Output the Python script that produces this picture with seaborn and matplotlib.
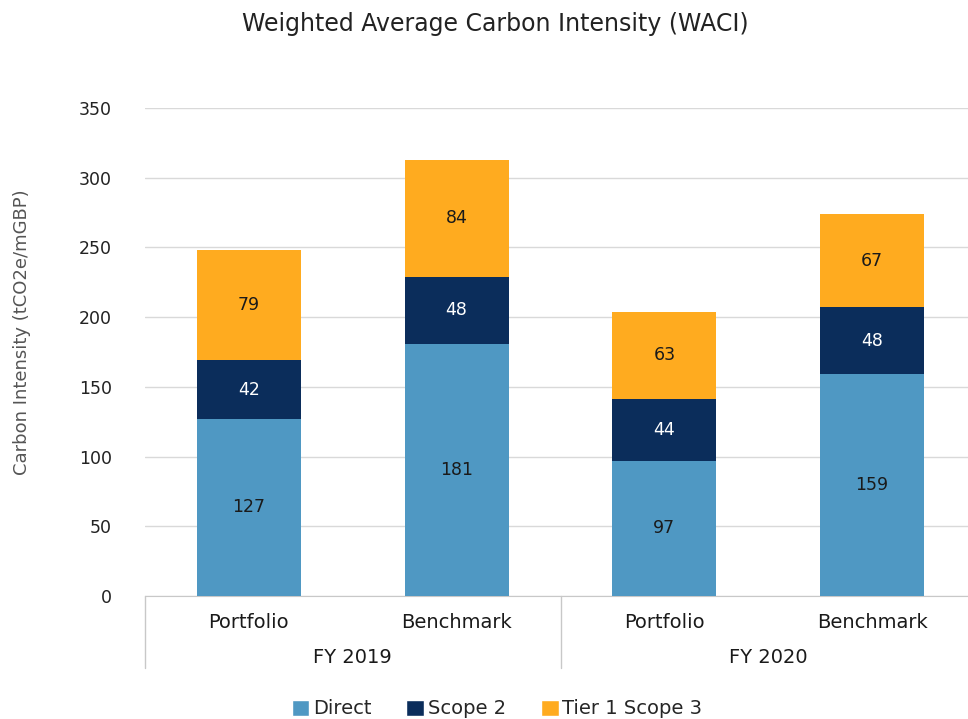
import matplotlib
matplotlib.use("Agg")
import matplotlib.pyplot as plt
import matplotlib.transforms as mtransforms
from matplotlib.patches import Patch
import seaborn as sns
import pandas as pd

# Datos del gráfico
years = ["FY 2019", "FY 2019", "FY 2020", "FY 2020"]
funds = ["Portfolio", "Benchmark", "Portfolio", "Benchmark"]
direct = [127, 181, 97, 159]
scope2 = [42, 48, 44, 48]
tier1_scope3 = [79, 84, 63, 67]

series = ["Direct", "Scope 2", "Tier 1 Scope 3"]
colors = ["#4F98C3", "#0B2D5B", "#FFAB1F"]
label_colors = ["#1a1a1a", "white", "#1a1a1a"]

df = pd.DataFrame({
    "bar": [f"{y} {f}" for y, f in zip(years, funds)],
    "Direct": direct,
    "Scope 2": scope2,
    "Tier 1 Scope 3": tier1_scope3,
})

sns.set_style("white")
plt.rcParams["font.family"] = ["DejaVu Sans"]

fig = plt.figure(figsize=(9.68, 7.19), dpi=100)
ax = fig.add_axes([145 / 968, 123 / 719, 831 / 968, 488 / 719])

# Barras apiladas
bottom = [0] * len(df)
for s, c, lc in zip(series, colors, label_colors):
    sns.barplot(data=df, x="bar", y=s, color=c, width=0.5, errorbar=None,
                bottom=bottom, saturation=1, linewidth=0, ax=ax, zorder=3)
    ax.bar_label(ax.containers[-1], labels=[str(v) for v in df[s]],
                 label_type="center", fontsize=12.5, color=lc)
    bottom = [b + v for b, v in zip(bottom, df[s])]

ax.set_ylim(0, 350)
ax.set_xlim(-0.5, 3.5)
ax.set_yticks(range(0, 351, 50))
ax.yaxis.grid(True, color="#D9D9D9", linewidth=1, zorder=0)
ax.tick_params(axis="y", length=0, pad=24, labelsize=12.5, labelcolor="#222222")
ax.tick_params(axis="x", length=0, pad=12, labelsize=14, labelcolor="#1a1a1a")
ax.set_xticks(range(len(funds)))
ax.set_xticklabels(funds)
ax.set_xlabel("")
ax.set_ylabel("Carbon Intensity (tCO2e/mGBP)", fontsize=13, color="#555555",
              va="center")
ax.yaxis.set_label_coords(-0.148, 0.54)
for sp in ["top", "right", "left"]:
    ax.spines[sp].set_visible(False)
ax.spines["bottom"].set_color("#C8C8C8")

# Etiquetas de grupo (años) y separadores
trans = mtransforms.blended_transform_factory(ax.transData, ax.transAxes)
for xpos in [-0.5, 1.5, 3.5]:
    ax.plot([xpos, xpos], [0, -0.148], transform=trans, color="#C8C8C8",
            linewidth=1, clip_on=False)
for i, y in enumerate(["FY 2019", "FY 2020"]):
    ax.text(2 * i + 0.5, -0.127, y, transform=trans, ha="center",
            va="center", fontsize=14, color="#1a1a1a")

fig.text(495 / 968, 1 - 24 / 719, "Weighted Average Carbon Intensity (WACI)",
         ha="center", va="center", fontsize=17, color="#222222")

handles = [Patch(facecolor=c, label=s) for s, c in zip(series, colors)]
fig.legend(handles=handles, loc="center", bbox_to_anchor=(497 / 968, 1 - 709 / 719),
           ncol=3, frameon=False, fontsize=14, handlelength=0.9,
           handleheight=0.9, handletextpad=0.2, columnspacing=1.8)

fig.savefig("out.png", dpi=100)
